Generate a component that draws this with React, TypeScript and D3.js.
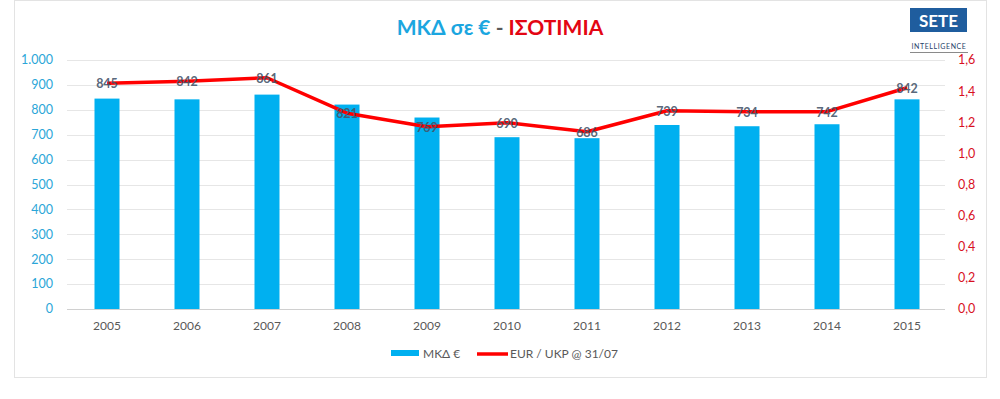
import { useRef, useEffect } from "react";
import * as d3 from "d3";

const years = ["2005", "2006", "2007", "2008", "2009", "2010", "2011", "2012", "2013", "2014", "2015"];
const spending = [845, 842, 861, 821, 769, 690, 686, 739, 734, 742, 842];
const eurUkp = [1.45, 1.463, 1.486, 1.258, 1.171, 1.197, 1.139, 1.274, 1.268, 1.268, 1.422];
const leftTicks = [0, 100, 200, 300, 400, 500, 600, 700, 800, 900, 1000];
const rightTicks = [0, 0.2, 0.4, 0.6, 0.8, 1.0, 1.2, 1.4, 1.6];

const BLUE = "#00b0f0";
const RED = "#ff0000";
const FONT = "Lato, 'Open Sans', sans-serif";

export default function App() {
  const ref = useRef<SVGSVGElement>(null);

  function init() {
    const settings = {
      width: 1000,
      height: 399,
      margin: { top: 60, right: 55, bottom: 90, left: 67 },
    };
    const plotRight = settings.width - settings.margin.right;
    const plotBottom = settings.height - settings.margin.bottom;

    const svg = d3.select(ref.current);
    svg.selectAll("*").remove();
    svg.attr("font-family", FONT);

    // frame
    svg
      .append("rect")
      .attr("x", 14.5)
      .attr("y", 0.5)
      .attr("width", 972)
      .attr("height", 377)
      .attr("fill", "#fff")
      .attr("stroke", "#e3e3e3");

    const x = d3
      .scaleBand()
      .domain(years)
      .range([settings.margin.left, settings.margin.left + 880])
      .paddingInner(0.6875)
      .paddingOuter(0.34375);

    const y = d3.scaleLinear().domain([0, 1000]).range([plotBottom, settings.margin.top]);
    const y2 = d3.scaleLinear().domain([0, 1.6]).range([plotBottom, settings.margin.top]);

    // grid
    svg
      .append("g")
      .selectAll("line")
      .data(leftTicks)
      .join("line")
      .attr("x1", settings.margin.left)
      .attr("x2", plotRight)
      .attr("y1", (d) => Math.round(y(d)) + 0.5)
      .attr("y2", (d) => Math.round(y(d)) + 0.5)
      .attr("stroke", (d) => (d === 0 ? "#d0d0d0" : "#e6e6e6"));

    // left axis
    svg
      .append("g")
      .selectAll("text")
      .data(leftTicks)
      .join("text")
      .attr("x", 53)
      .attr("y", (d) => y(d))
      .attr("dy", "0.35em")
      .attr("text-anchor", "end")
      .attr("font-size", 12.5)
      .attr("fill", "#2ba6d8")
      .text((d) => d3.format(",")(d).replace(",", "."));

    // right axis
    svg
      .append("g")
      .selectAll("text")
      .data(rightTicks)
      .join("text")
      .attr("x", 958)
      .attr("y", (d) => y2(d))
      .attr("dy", "0.35em")
      .attr("text-anchor", "start")
      .attr("font-size", 12.5)
      .attr("fill", "#d8101f")
      .text((d) => d3.format(".1f")(d).replace(".", ","));

    // bars
    svg
      .append("g")
      .selectAll("rect")
      .data(spending)
      .join("rect")
      .attr("x", (d, i) => x(years[i]))
      .attr("y", (d) => y(d))
      .attr("width", x.bandwidth())
      .attr("height", (d) => y(0) - y(d))
      .attr("fill", BLUE);

    // x labels
    svg
      .append("g")
      .selectAll("text")
      .data(years)
      .join("text")
      .attr("x", (d) => x(d) + x.bandwidth() / 2)
      .attr("y", plotBottom + 21)
      .attr("text-anchor", "middle")
      .attr("font-size", 12)
      .attr("font-family", "'Liberation Sans Narrow', " + FONT)
      .attr("fill", "#595959")
      .text((d) => d);

    // line
    const line = d3
      .line<number>()
      .x((d, i) => x(years[i]) + x.bandwidth() / 2)
      .y((d) => y2(d));

    svg
      .append("path")
      .datum(eurUkp)
      .attr("d", line)
      .attr("fill", "none")
      .attr("stroke", RED)
      .attr("stroke-width", 3.5)
      .attr("stroke-linejoin", "round");

    // data labels
    svg
      .append("g")
      .selectAll("text")
      .data(spending)
      .join("text")
      .attr("x", (d, i) => x(years[i]) + x.bandwidth() / 2)
      .attr("y", (d, i) => y2(eurUkp[i]))
      .attr("dy", "0.4em")
      .attr("text-anchor", "middle")
      .attr("font-size", 12.5)
      .attr("font-weight", "bold")
      .attr("fill", "#44546a")
      .attr("fill-opacity", 0.9)
      .text((d) => d);

    // title
    const title = svg
      .append("text")
      .attr("x", 500)
      .attr("y", 35)
      .attr("text-anchor", "middle")
      .attr("font-size", 21)
      .attr("font-weight", "bold");
    title.append("tspan").attr("fill", "#1ba6e0").text("ΜΚΔ σε €");
    title.append("tspan").attr("fill", "#595959").text(" - ");
    title.append("tspan").attr("fill", "#e30613").text("ΙΣΟΤΙΜΙΑ");

    // logo
    const logo = svg.append("g");
    logo.append("rect").attr("x", 910).attr("y", 8).attr("width", 57).attr("height", 24).attr("fill", "#1f5d9e");
    logo
      .append("text")
      .attr("x", 938.5)
      .attr("y", 27)
      .attr("text-anchor", "middle")
      .attr("font-size", 17)
      .attr("font-weight", "bold")
      .attr("fill", "#fff")
      .text("SETE");
    logo
      .append("text")
      .attr("x", 939)
      .attr("y", 49)
      .attr("text-anchor", "middle")
      .attr("font-size", 7)
      .attr("letter-spacing", 0.6)
      .attr("fill", "#1f3f6a")
      .text("INTELLIGENCE");
    logo
      .append("line")
      .attr("x1", 910)
      .attr("x2", 968)
      .attr("y1", 52.5)
      .attr("y2", 52.5)
      .attr("stroke", "#8a8a8a");

    // legend
    const legend = svg.append("g").attr("font-size", 12).attr("fill", "#595959");
    legend.append("rect").attr("x", 391).attr("y", 350).attr("width", 28).attr("height", 6).attr("fill", BLUE);
    legend.append("text").attr("x", 423).attr("y", 357.5).attr("fill", "#595959").text("ΜΚΔ  €");
    legend
      .append("line")
      .attr("x1", 477)
      .attr("x2", 508)
      .attr("y1", 354)
      .attr("y2", 354)
      .attr("stroke", RED)
      .attr("stroke-width", 3.5);
    legend.append("text").attr("x", 510).attr("y", 357.5).attr("fill", "#595959").text("EUR / UKP @ 31/07");
  }

  useEffect(init, []);
  return (
    <svg
      ref={ref}
      width={1000}
      height={399}
      style={{ position: "absolute", left: 0, top: 0, background: "#fff" }}
    />
  );
}
